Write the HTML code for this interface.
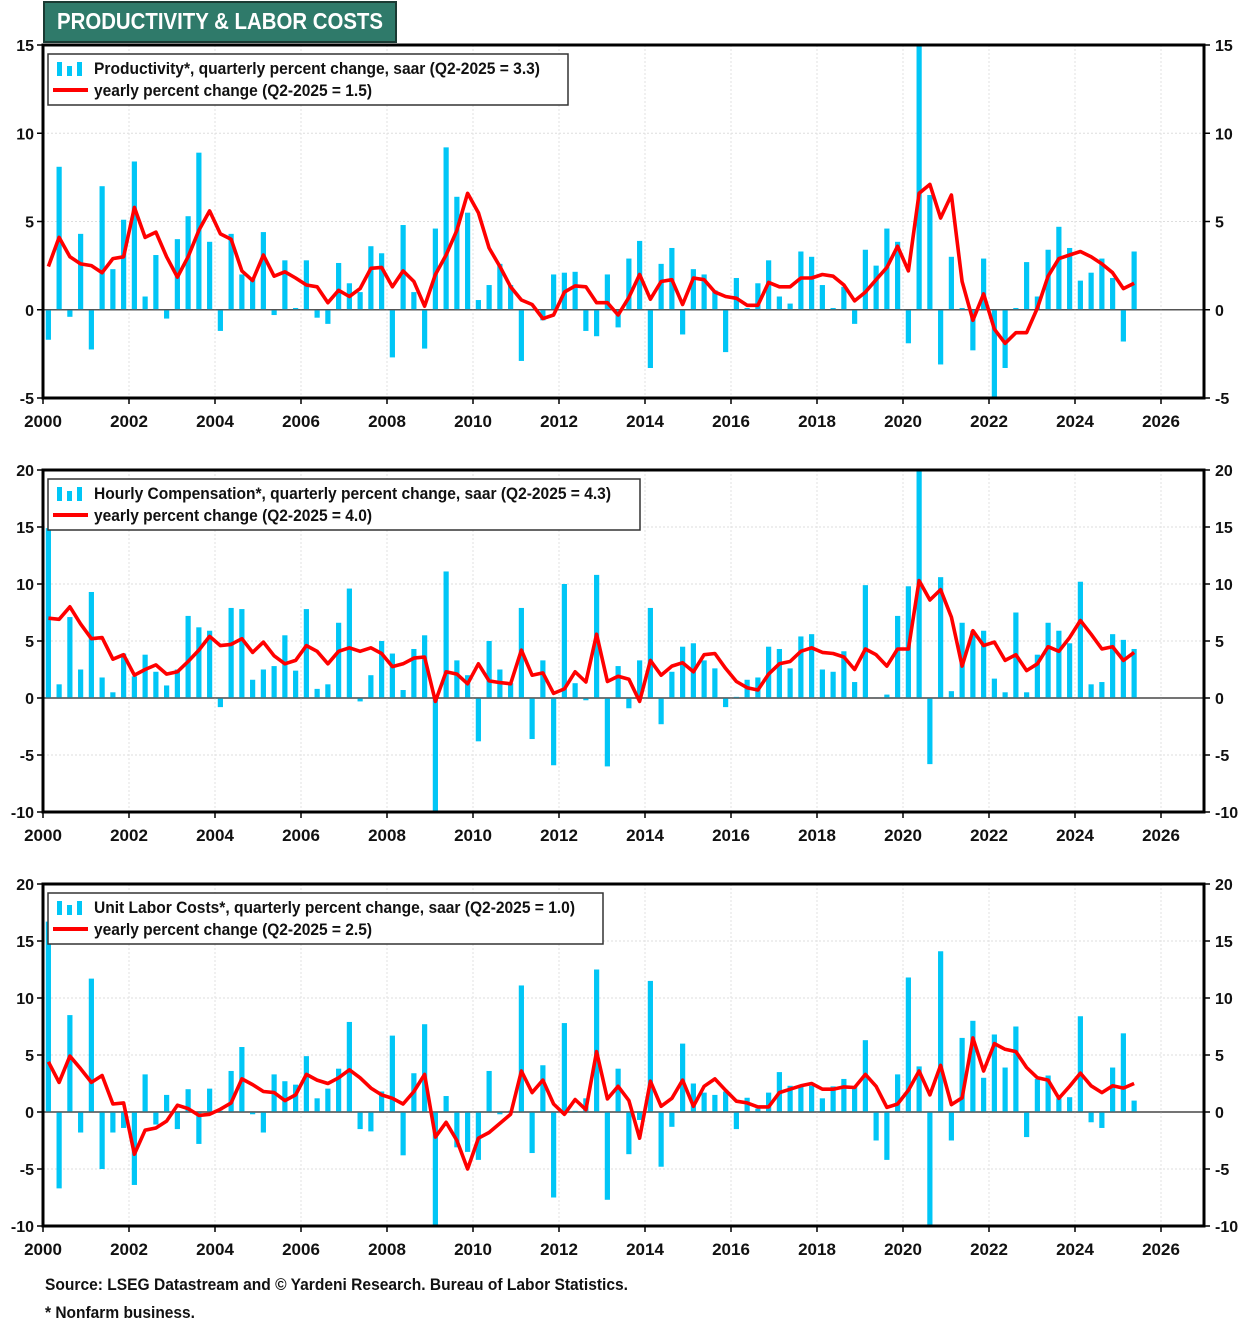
<!DOCTYPE html>
<html><head><meta charset="utf-8"><style>
body{margin:0;background:#fff;}
svg{display:block;font-family:"Liberation Sans Narrow","Liberation Sans",sans-serif;}
</style></head><body>
<svg id="chart" width="1242" height="1330" viewBox="0 0 1242 1330" xmlns="http://www.w3.org/2000/svg">
<rect x="44" y="2" width="352" height="40" fill="#2f7a6a" stroke="#1a3a33" stroke-width="2"/>
<text x="220" y="29" text-anchor="middle" fill="#fff" font-size="23" font-weight="bold" textLength="326" lengthAdjust="spacingAndGlyphs">PRODUCTIVITY &amp; LABOR COSTS</text>
<g id="panels"></g>
<text x="45" y="1290" font-size="17" font-weight="bold" fill="#111" textLength="583" lengthAdjust="spacingAndGlyphs">Source: LSEG Datastream and © Yardeni Research. Bureau of Labor Statistics.</text>
<text x="45" y="1318" font-size="17" font-weight="bold" fill="#111" textLength="150" lengthAdjust="spacingAndGlyphs">* Nonfarm business.</text>
</svg>
<script>
const yearTicks = [2000,2002,2004,2006,2008,2010,2012,2014,2016,2018,2020,2022,2024,2026];
const prodTicks = [15,10,5,0,-5];
const compTicks = [20,15,10,5,0,-5,-10];
const ulcTicks = [20,15,10,5,0,-5,-10];
const prodQ = [-1.7,8.1,-0.4,4.3,-2.25,7.0,2.3,5.1,8.4,0.75,3.1,-0.5,4.0,5.3,8.9,3.85,-1.2,4.3,2.0,1.8,4.4,-0.3,2.8,0.1,2.8,-0.45,-0.8,2.65,1.5,1.0,3.6,3.2,-2.7,4.8,1.0,-2.2,4.6,9.2,6.4,5.5,0.55,1.4,2.6,1.4,-2.9,0.05,-0.6,2.0,2.1,2.15,-1.2,-1.5,
2.0,-1.0,2.9,3.9,-3.3,2.6,3.5,-1.4,2.3,2.0,1.1,-2.4,1.8,0.1,1.5,2.8,0.75,0.35,3.3,3.0,1.4,0.1,1.3,-0.8,3.4,2.5,4.6,3.85,-1.9,20.7,6.5,-3.1,3.0,0.1,-2.3,2.9,-7.4,-3.3,0.1,2.7,0.75,3.4,4.7,3.5,1.65,2.1,2.9,1.8,-1.8,3.3];
const prodY = [2.45,4.1,3.0,2.6,2.5,2.1,2.9,3.0,5.8,4.1,4.4,3.0,1.85,3.0,4.5,5.6,4.3,4.0,2.2,1.65,3.1,1.9,2.15,1.8,1.4,1.3,0.4,1.1,0.75,1.2,2.35,2.4,1.3,2.2,1.6,0.2,2.0,3.1,4.5,6.6,5.5,3.5,2.45,1.3,0.55,0.3,-0.5,-0.3,1.0,1.35,1.3,0.4,
0.4,-0.3,0.7,2.0,0.6,1.6,1.7,0.3,1.8,1.7,1.0,0.75,0.65,0.25,0.25,1.55,1.3,1.3,1.8,1.8,2.0,1.9,1.4,0.5,1.0,1.7,2.4,3.6,2.2,6.6,7.1,5.2,6.5,1.6,-0.6,0.9,-1.1,-1.9,-1.3,-1.3,0.1,1.9,2.9,3.1,3.3,3.0,2.6,2.1,1.2,1.5];
const compQ = [14.9,1.2,7.1,2.5,9.3,1.8,0.5,3.9,1.9,3.8,2.3,1.1,2.5,7.2,6.2,5.9,-0.8,7.9,7.8,1.6,2.5,2.8,5.5,2.4,7.8,0.8,1.2,6.6,9.6,-0.3,2.0,5.0,3.9,0.7,4.3,5.5,-11.5,11.1,3.3,2.0,-3.8,5.0,2.5,1.3,7.9,-3.6,3.3,-5.9,10.0,1.3,-0.2,10.8,
-6.0,2.8,-0.9,3.3,7.9,-2.3,2.3,4.5,4.8,3.3,2.6,-0.8,0.1,1.6,1.8,4.5,4.3,2.6,5.4,5.6,2.5,2.3,4.1,1.4,9.9,0.05,0.3,7.2,9.8,22,-5.8,10.6,0.6,6.6,5.9,5.9,1.7,0.5,7.5,0.5,3.8,6.6,5.9,4.8,10.2,1.2,1.4,5.6,5.1,4.3];
const compY = [7.0,6.9,8.0,6.5,5.2,5.3,3.4,3.8,2.0,2.5,2.9,2.1,2.3,3.2,4.2,5.4,4.6,4.7,5.2,4.0,4.9,3.7,3.0,3.3,4.6,4.1,3.0,4.1,4.4,4.1,4.4,3.9,2.75,3.0,3.5,3.6,-0.3,2.3,2.1,1.25,3.0,1.5,1.35,1.25,4.2,2.0,2.2,0.4,0.8,2.3,1.4,5.6,
1.45,1.9,1.65,-0.3,3.3,2.0,2.8,3.1,2.3,3.8,3.9,2.6,1.45,0.9,0.7,2.1,3.0,3.2,4.1,4.4,4.0,3.9,3.6,2.5,4.3,3.8,2.8,4.3,4.3,10.3,8.6,9.5,7.1,2.8,5.9,4.6,4.9,3.3,3.8,2.4,3.0,4.5,4.1,5.3,6.8,5.6,4.3,4.5,3.3,4.0];
const ulcQ = [16.7,-6.7,8.5,-1.8,11.7,-5.0,-1.8,-1.4,-6.4,3.3,-1.1,1.5,-1.5,2.0,-2.8,2.05,0.1,3.6,5.7,-0.2,-1.8,3.3,2.7,2.4,4.9,1.2,2.05,3.8,7.9,-1.5,-1.7,1.8,6.7,-3.8,3.4,7.7,-12,1.4,-3.1,-3.5,-4.2,3.6,-0.2,0.1,11.1,-3.6,4.1,-7.5,7.8,0.1,1.2,12.5,
-7.7,3.8,-3.7,-0.7,11.5,-4.8,-1.3,6.0,2.5,1.7,1.5,1.8,-1.5,1.25,0.3,1.7,3.5,2.3,2.25,2.3,1.2,2.25,2.9,2.2,6.3,-2.5,-4.2,3.3,11.8,4.0,-11,14.1,-2.5,6.5,8.0,3.0,6.8,3.9,7.5,-2.2,2.9,3.2,1.2,1.3,8.4,-0.9,-1.4,3.9,6.9,1.0];
const ulcY = [4.4,2.6,4.9,3.8,2.6,3.2,0.7,0.8,-3.7,-1.6,-1.4,-0.8,0.6,0.3,-0.3,-0.2,0.25,0.8,2.9,2.4,1.8,1.7,1.0,1.5,3.3,2.8,2.5,3.0,3.7,3.0,2.1,1.5,1.2,0.7,1.8,3.3,-2.2,-0.9,-2.5,-5.0,-2.3,-1.8,-1.0,-0.2,3.6,1.7,2.8,0.7,-0.2,1.1,0.2,5.3,
1.15,2.25,1.0,-2.3,2.7,0.5,1.2,2.8,0.5,2.25,2.9,1.9,0.95,0.8,0.45,0.45,1.7,2.0,2.3,2.5,2.0,2.0,2.2,2.15,3.3,2.25,0.4,0.7,1.9,3.6,1.5,4.1,0.65,1.25,6.5,3.6,6.0,5.5,5.3,3.9,3.0,2.8,1.2,2.25,3.4,2.3,1.7,2.3,2.1,2.5];

const NS = "http://www.w3.org/2000/svg";
const root = document.getElementById('panels');
const X0 = 43, X1 = 1204, PXY = 43.0; // px per year
function xOf(t){ return X0 + (t - 2000) * PXY; }
function mk(tag, attrs, parent){ const e = document.createElementNS(NS, tag); for (const k in attrs) e.setAttribute(k, attrs[k]); parent.appendChild(e); return e; }

function drawPanel(key, top, bottom, yMax, yMin, ticks, qData, yData, legend1, legend2, legendW, l1Len, l2Len){
  const g = mk('g', {}, root);
  
  
  const yOf = v => top + (yMax - v) / (yMax - yMin) * (bottom - top);
  // grid
  ticks.forEach(v => {
    if (v === yMax || v === yMin) return;
    const gl = mk('line', {x1:X0, x2:X1, y1:yOf(v), y2:yOf(v), stroke: v===0 ? '#555' : '#ddd', 'stroke-width': v===0 ? 1.5 : 1, 'stroke-dasharray': v===0 ? '' : '2,2'}, g);
    
    
  });
  yearTicks.forEach(yr => {
    const gl = mk('line', {x1:xOf(yr), x2:xOf(yr), y1:top, y2:bottom, stroke:'#e2e2e2', 'stroke-dasharray':'2,2'}, g);
    
    
  });
  // clip
  const cp = mk('clipPath', {id: key + '-clip'}, g);
  mk('rect', {x:X0, y:top, width:X1-X0, height:bottom-top}, cp);
  const bars = mk('g', {'clip-path':'url(#' + key + '-clip)'}, g);
  qData.forEach((v, i) => {
    const t = 2000 + (i + 0.5) / 4;
    const y0 = yOf(0), y1 = yOf(v);
    const b = mk('rect', {x: xOf(t) - 2.6, width: 5.2, y: Math.min(y0, y1), height: Math.max(0.8, Math.abs(y1 - y0)), fill:'#00c6f6'}, bars);
    
    
  });
  const zl = mk('line', {x1:X0, x2:X1, y1:yOf(0), y2:yOf(0), stroke:'#555', 'stroke-width':1.3}, g);
  
  
  const pts = yData.map((v, i) => xOf(2000 + (i + 0.5) / 4).toFixed(1) + ',' + yOf(v).toFixed(1)).join(' ');
  const ln = mk('polyline', {points: pts, fill:'none', stroke:'#ff0000', 'stroke-width':3.6, 'stroke-linejoin':'round', 'clip-path':'url(#' + key + '-clip)'}, g);
  
  
  // frame
  const fr = mk('rect', {x:X0, y:top, width:X1-X0, height:bottom-top, fill:'none', stroke:'#000', 'stroke-width':3}, g);
  
  
  // y ticks & labels
  ticks.forEach(v => {
    const y = yOf(v);
    mk('line', {x1:X0-6, x2:X0, y1:y, y2:y, stroke:'#000', 'stroke-width':1.5}, g);
    mk('line', {x1:X1, x2:X1+6, y1:y, y2:y, stroke:'#000', 'stroke-width':1.5}, g);
    const tl = mk('text', {x:X0-9, y:y+6, 'text-anchor':'end', 'font-size':16, 'font-weight':'bold', fill:'#111'}, g);
    tl.textContent = v;
    
    
    const tr = mk('text', {x:X1+11, y:y+6, 'text-anchor':'start', 'font-size':16, 'font-weight':'bold', fill:'#111'}, g);
    tr.textContent = v;
    
    
  });
  yearTicks.forEach(yr => {
    const x = xOf(yr);
    mk('line', {x1:x, x2:x, y1:bottom, y2:bottom+6, stroke:'#000', 'stroke-width':1.5}, g);
    const xl = mk('text', {x:x, y:bottom+29, 'text-anchor':'middle', 'font-size':17, 'font-weight':'bold', fill:'#111'}, g);
    xl.textContent = yr;
    
    
  });
  // legend
  const lg = mk('g', {}, g);
  
  
  const ly = top + 9;
  mk('rect', {x:48, y:ly, width:legendW, height:51, fill:'#fff', stroke:'#333', 'stroke-width':1.5}, lg);
  [[57,14],[67,10],[77,14]].forEach(([bx,bh]) => mk('rect', {x:bx, y:ly+22-bh+4-6+2, width:5, height:bh, fill:'#00c6f6'}, lg));
  mk('line', {x1:53, x2:88, y1:ly+36, y2:ly+36, stroke:'#ff0000', 'stroke-width':4}, lg);
  const t1 = mk('text', {x:94, y:ly+20, 'font-size':17, 'font-weight':'bold', fill:'#111', textLength:l1Len, lengthAdjust:'spacingAndGlyphs'}, lg);
  t1.textContent = legend1;
  
  
  const t2 = mk('text', {x:94, y:ly+42, 'font-size':17, 'font-weight':'bold', fill:'#111', textLength:l2Len, lengthAdjust:'spacingAndGlyphs'}, lg);
  t2.textContent = legend2;
  
  
}
drawPanel('productivity', 45, 398, 15, -5, prodTicks, prodQ, prodY,
  'Productivity*, quarterly percent change, saar (Q2-2025 = 3.3)', 'yearly percent change (Q2-2025 = 1.5)', 520, 446, 278);
drawPanel('compensation', 470, 812, 20, -10, compTicks, compQ, compY,
  'Hourly Compensation*, quarterly percent change, saar (Q2-2025 = 4.3)', 'yearly percent change (Q2-2025 = 4.0)', 592, 517, 278);
drawPanel('unit-labor-costs', 884, 1226, 20, -10, ulcTicks, ulcQ, ulcY,
  'Unit Labor Costs*, quarterly percent change, saar (Q2-2025 = 1.0)', 'yearly percent change (Q2-2025 = 2.5)', 555, 481, 278);
</script>
</body></html>
